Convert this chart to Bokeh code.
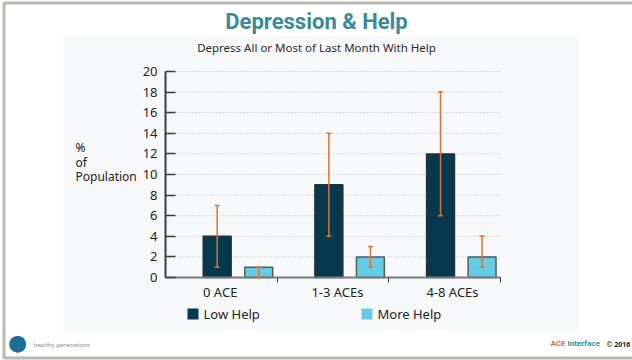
from bokeh.plotting import figure
from bokeh.models import ColumnDataSource, Whisker, TeeHead, Label, FixedTicker, BoxAnnotation
from bokeh.embed import file_html
from bokeh.resources import INLINE
import numpy as np

# ---- data ----
categories = ["0 ACE", "1-3 ACEs", "4-8 ACEs"]
series_names = ["Low Help", "More Help"]
low_help = [4, 9, 12]
low_lower = [1, 4, 6]
low_upper = [7, 14, 18]
more_help = [1, 2, 2]
more_lower = [0, 1, 1]
more_upper = [1, 3, 4]
y_ticks = [0, 2, 4, 6, 8, 10, 12, 14, 16, 18, 20]

W, H = 632, 360
FONT = "Noto Sans"
TFONT = "Roboto"
LOW_C, MORE_C = "#053a4e", "#66cbe5"

idx = np.arange(len(categories))
src_low = ColumnDataSource(dict(x=idx + 0.463, top=low_help, lower=low_lower, upper=low_upper))
src_more = ColumnDataSource(dict(x=idx + 0.835, top=more_help, lower=more_lower, upper=more_upper))

# the frame covers the whole canvas; the value ranges are padded so that
# the chart body sits where the original places it
p = figure(width=W, height=H, output_backend="svg", toolbar_location=None,
           x_range=(-1.4776, 4.1821), y_range=(-8.058, 26.893))
p.min_border = 0
p.min_border_left = p.min_border_right = p.min_border_top = p.min_border_bottom = 0
p.background_fill_color = "white"
p.border_fill_color = "white"
p.outline_line_color = None
p.xgrid.grid_line_color = None
p.ygrid.grid_line_color = None

# card background
p.add_layout(BoxAnnotation(left=63, right=578, top=H - 35, bottom=H - 331,
                           left_units="screen", right_units="screen",
                           top_units="screen", bottom_units="screen",
                           fill_color="#f7f8fa", fill_alpha=1, line_color=None, level="underlay"))

# dotted horizontal gridlines over the category span
g = y_ticks[1:]
p.segment(x0=[0] * len(g), x1=[len(categories)] * len(g), y0=g, y1=g,
          line_color="#b8b8b8", line_dash="1 2", line_width=1)

low = p.vbar(x="x", top="top", width=0.25, source=src_low, fill_color=LOW_C,
             line_color="#2a2f33", line_width=1.5)
more = p.vbar(x="x", top="top", width=0.25, source=src_more, fill_color=MORE_C,
              line_color="#555a5e", line_width=1.5)

for s in (src_low, src_more):
    p.add_layout(Whisker(source=s, base="x", lower="lower", upper="upper",
                         line_color="#e2702f", line_width=1.5, level="annotation",
                         upper_head=TeeHead(size=5, line_color="#e2702f", line_width=1.5),
                         lower_head=TeeHead(size=5, line_color="#e2702f", line_width=1.5)))

# y axis
p.yaxis.fixed_location = 0
p.yaxis.bounds = (0, 20)
p.yaxis.ticker = FixedTicker(ticks=y_ticks)
p.yaxis.axis_line_color = "#3c3c3c"
p.yaxis.axis_line_width = 2
p.yaxis.major_tick_in = 10
p.yaxis.major_tick_out = 0
p.yaxis.major_tick_line_color = "#3c3c3c"
p.yaxis.major_tick_line_width = 1.5
p.yaxis.minor_tick_line_color = None
p.yaxis.major_label_text_font = FONT
p.yaxis.major_label_text_font_size = "13px"
p.yaxis.major_label_text_color = "#222222"
p.yaxis.major_label_standoff = 8

# x axis
xt = [0.49, 1.54, 2.57]
p.xaxis.fixed_location = 0
p.xaxis.bounds = (0, len(categories))
p.xaxis.ticker = FixedTicker(ticks=xt, minor_ticks=list(idx + 1))
p.xaxis.major_label_overrides = {t: c for t, c in zip(xt, categories)}
p.xaxis.axis_line_color = "#7a7a7a"
p.xaxis.axis_line_width = 2
p.xaxis.major_tick_line_color = None
p.xaxis.major_tick_out = 0
p.xaxis.major_tick_in = 0
p.xaxis.minor_tick_line_color = "#3c3c3c"
p.xaxis.minor_tick_in = 0
p.xaxis.minor_tick_out = 5
p.xaxis.major_label_text_font = FONT
p.xaxis.major_label_text_font_size = "13px"
p.xaxis.major_label_text_color = "#222222"
p.xaxis.major_label_standoff = 0

# texts (screen coords from the canvas' bottom-left)
def lab(text, x, y, size, color="#222222", style="normal", align="left", font=FONT):
    p.add_layout(Label(x=x, y=y, x_units="screen", y_units="screen", text=text,
                       text_font=font, text_font_size=size, text_color=color,
                       text_font_style=style, text_align=align, text_baseline="middle"))

lab("Depression & Help", 316, H - 21, "22px", "#3b8a99", "bold", "center", TFONT)
lab("Depress All or Most of Last Month With Help", 316, H - 47, "11.5px", "#2a2a2a", align="center")
lab("%", 75, H - 147, "12px")
lab("of", 75, H - 162, "12px")
lab("Population", 75, H - 176, "12px")

# legend
for name, col, xs in zip(series_names, (LOW_C, MORE_C), (187, 361)):
    p.add_layout(BoxAnnotation(left=xs, right=xs + 11, top=H - 308, bottom=H - 319,
                               left_units="screen", right_units="screen",
                               top_units="screen", bottom_units="screen",
                               fill_color=col, fill_alpha=1, line_color=None))
    lab(name, xs + 16, H - 313.5, "13px")

# footer marks
lab("\u25cf", 17, H - 342, "22px", "#1d6e96", align="center", font="DejaVu Sans")
lab("healthy generations", 33, H - 344, "6px", "#8a8a9a")
lab("ACE", 565, H - 343, "8px", "#e2702f", "bold", align="right", font=TFONT)
lab("Interface", 567, H - 343, "8px", "#2f8ea3", "bold", font=TFONT)
lab("\u00a9 2016", 606, H - 344, "7px", "#222222", "bold")

# outer dark frame
p.add_layout(BoxAnnotation(left=3.5, right=W + 10, top=H - 2.5, bottom=2.5,
                           left_units="screen", right_units="screen",
                           top_units="screen", bottom_units="screen",
                           fill_alpha=0, line_color="#1a1208", line_width=3, level="overlay"))

open("out.html", "w").write(file_html(p, INLINE))
